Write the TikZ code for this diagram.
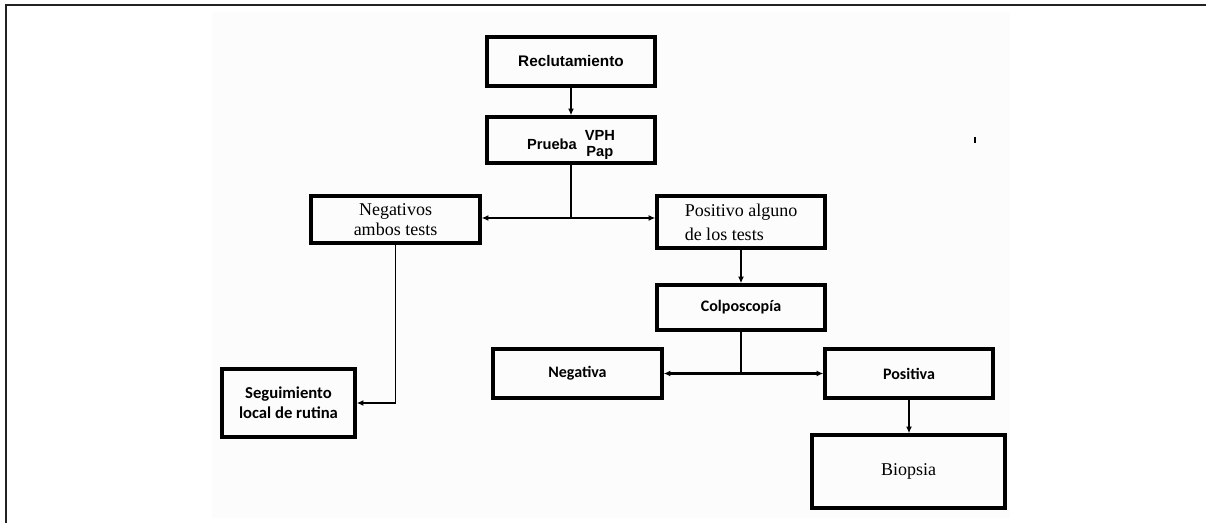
\documentclass[tikz,border=0pt]{standalone}
\usepackage{fontspec}
\setmainfont{Liberation Serif}
\newfontfamily\calibrif{Carlito}
\newfontfamily\arialf{Liberation Sans}
\usepackage{tikz}
\usetikzlibrary{arrows.meta, calc}
\definecolor{marco}{RGB}{34, 34, 34}
\definecolor{fondo}{RGB}{252, 252, 252}

\begin{document}
\begin{tikzpicture}[x=0.75pt, y=-0.75pt,
    caja/.style 2 args={draw=black, line width=2.6pt, inner sep=0pt, align=center,
        minimum width=#1*0.75pt, minimum height=#2*0.75pt},
    letraA/.style={font=\arialf\bfseries\fontsize{11.5}{13}\selectfont},
    letraC/.style={font=\calibrif\bfseries\fontsize{12}{12.5}\selectfont},
    letraS/.style={font=\fontsize{13.5}{14.5}\selectfont},
    flecha/.style={line width=1.7pt, -{Latex[length=5pt, width=4.5pt]}},
    linea/.style={line width=1.7pt}]
    \useasboundingbox (0,0) rectangle (1206,523);
    \fill[fondo] (212,12) rectangle (1010,518);
    \draw[marco, line width=1.5pt] (6,523) -- (6,5) -- (1206,5);

    \node[caja={168}{49}, letraA] (recl) at (571,61.5) {Reclutamiento};
    \node[caja={168}{46}, letraA, font=\arialf\bfseries\fontsize{11}{12}\selectfont] (prueba) at (571,140)
        {Prueba\hspace{6pt}\begin{tabular}{@{}c@{}}VPH\\Pap\end{tabular}\rule{0pt}{23pt}};
    \node[caja={169}{47}, letraS] (negt) at (395.5,219.5) {Negativos\\ambos tests};
    \node[caja={168}{52}, letraS, font=\fontsize{13.5}{18}\selectfont, align=left] (post) at (741,222)
        {Positivo alguno\\de los tests};
    \node[caja={168}{45}, letraC] (colpo) at (741,307.5) {Colposcopía};
    \node[caja={169}{49}, letraC] (nega) at (577.5,373.5) {Negativa};
    \node[caja={168}{49}, letraC] (posi) at (909,373.5) {Positiva};
    \node[caja={133}{68}, letraC, font=\calibrif\bfseries\fontsize{12.5}{15}\selectfont] (segui) at (288.5,403)
        {Seguimiento\\local de rutina};
    \node[caja={193}{73}, letraS] (biop) at (908.5,471.5) {Biopsia};

    % conectores
    \draw[flecha] (recl) -- (prueba);
    \coordinate (j1) at (prueba.south |- 0,218);
    \draw[linea] (prueba.south) -- (j1);
    \draw[flecha] (j1) -- (j1 -| negt.east);
    \draw[flecha] (j1) -- (j1 -| post.west);
    \draw[flecha, line width=1.4pt] (negt.south) |- (segui.east);
    \draw[flecha] (post) -- (colpo);
    \coordinate (j2) at (colpo.south |- nega.east);
    \draw[linea] (colpo.south) -- (j2);
    \draw[flecha] (j2) -- (nega.east);
    \draw[flecha] (j2) -- (j2 -| posi.west);
    \draw[flecha] (posi.south) -- (posi.south |- biop.north);

    \draw[line width=1.2pt] (975,137) -- (975,143);
\end{tikzpicture}
\end{document}
